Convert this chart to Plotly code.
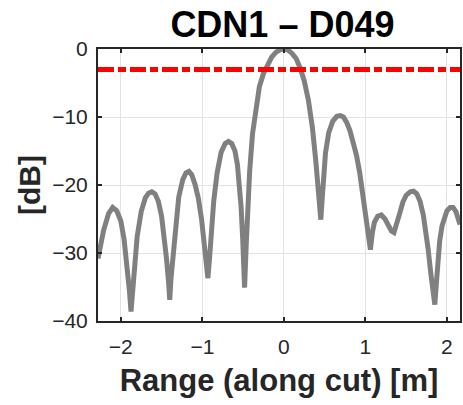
import plotly.graph_objects as go

# Range along cut [m] and response [dB]
range_m = [-2.28, -2.25, -2.21, -2.15, -2.10, -2.05, -2.00, -1.96, -1.92, -1.895,
           -1.875, -1.855, -1.83, -1.80, -1.75, -1.70, -1.66, -1.62, -1.58, -1.54,
           -1.50, -1.47, -1.44, -1.415, -1.40, -1.385, -1.36, -1.335, -1.29, -1.24,
           -1.20, -1.165, -1.13, -1.09, -1.05, -1.01, -0.98, -0.955, -0.932, -0.91,
           -0.885, -0.86, -0.82, -0.77, -0.72, -0.68, -0.64, -0.60, -0.57, -0.545,
           -0.525, -0.505, -0.482, -0.462, -0.445, -0.42, -0.385, -0.345, -0.30, -0.25,
           -0.20, -0.15, -0.10, -0.05, 0.00, 0.05, 0.10, 0.15, 0.20, 0.25,
           0.30, 0.35, 0.39, 0.42, 0.44, 0.453, 0.47, 0.49, 0.51, 0.55,
           0.60, 0.65, 0.69, 0.73, 0.77, 0.81, 0.85, 0.89, 0.93, 0.97,
           1.00, 1.03, 1.061, 1.085, 1.11, 1.15, 1.195, 1.24, 1.28, 1.32,
           1.35, 1.38, 1.42, 1.46, 1.50, 1.55, 1.59, 1.63, 1.67, 1.71,
           1.74, 1.77, 1.80, 1.825, 1.851, 1.87, 1.89, 1.91, 1.94, 1.97,
           2.00, 2.04, 2.075, 2.11, 2.14, 2.16]
level_db = [-30.8, -28.5, -26.6, -24.2, -23.3, -23.8, -25.3, -28.0, -32.0, -35.5,
            -38.6, -35.0, -31.5, -27.6, -23.9, -21.9, -21.2, -21.0, -21.3, -22.4,
            -24.6, -27.2, -30.8, -34.2, -36.9, -33.8, -30.5, -26.5, -21.8, -19.2,
            -18.2, -18.0, -18.5, -19.9, -21.9, -25.0, -28.2, -31.0, -33.7, -30.5,
            -26.0, -22.3, -18.3, -15.2, -13.9, -13.6, -13.9, -15.0, -17.0, -19.8,
            -23.2, -28.0, -35.1, -28.8, -23.0, -18.0, -12.5, -8.5, -5.5, -3.6,
            -2.2, -1.2, -0.5, -0.12, 0.0, -0.15, -0.65, -1.4, -2.8, -4.7,
            -7.5, -11.6, -16.3, -20.7, -23.5, -25.1, -22.0, -17.8, -15.3, -12.3,
            -10.6, -9.9, -9.8, -10.0, -10.8, -12.0, -13.6, -15.6, -18.2, -21.3,
            -24.0, -26.8, -29.5, -27.0, -25.5, -24.6, -24.4, -25.0, -26.0, -26.8,
            -27.0, -26.0, -24.2, -22.5, -21.5, -21.0, -20.9, -21.3, -22.4, -24.4,
            -26.6, -29.5, -32.8, -35.6, -37.6, -34.5, -31.0, -28.3, -26.0, -24.6,
            -23.8, -23.3, -23.3, -23.9, -25.0, -25.8]

threshold_db = -3
x_limits = [-2.28, 2.16]
y_limits = [-40, 0]
x_ticks = [-2, -1, 0, 1, 2]
y_ticks = [-40, -30, -20, -10, 0]

fig = go.Figure()
fig.add_trace(go.Scatter(x=range_m, y=level_db, mode="lines",
                         line=dict(color="#808080", width=5), showlegend=False))
fig.add_trace(go.Scatter(x=x_limits, y=[threshold_db, threshold_db], mode="lines",
                         line=dict(color="#ff0000", width=5, dash="16px,4px,8px,4px"),
                         showlegend=False))

axis_common = dict(showline=True, linecolor="#262626", linewidth=2, mirror="ticks",
                   ticks="inside", ticklen=4, tickwidth=1.5, tickcolor="#262626",
                   showgrid=True, gridcolor="#e3e3e3", gridwidth=1, zeroline=False,
                   tickfont=dict(family="Liberation Sans, Arial", size=21, color="#262626"))

fig.update_layout(
    width=463, height=405,
    margin=dict(l=98, r=1, t=49, b=84),
    paper_bgcolor="white", plot_bgcolor="white",
    title=dict(text="<b>CDN1 – D049</b>", x=0.61, xanchor="center",
               y=0.94, yanchor="middle", yref="container",
               font=dict(family="Liberation Sans, Arial", size=36, color="#000000")),
    xaxis=dict(range=x_limits, tickvals=x_ticks, ticklabelstandoff=6,
               title=dict(text="<b>Range (along cut) [m]</b>", standoff=12,
                          font=dict(family="Liberation Sans, Arial", size=31, color="#262626")),
               **axis_common),
    yaxis=dict(range=y_limits, tickvals=y_ticks, ticklabelstandoff=4,
               title=dict(text="<b>[dB]</b>", standoff=3,
                          font=dict(family="Liberation Sans, Arial", size=30, color="#262626")),
               **axis_common),
)

fig.write_html("out.html")
